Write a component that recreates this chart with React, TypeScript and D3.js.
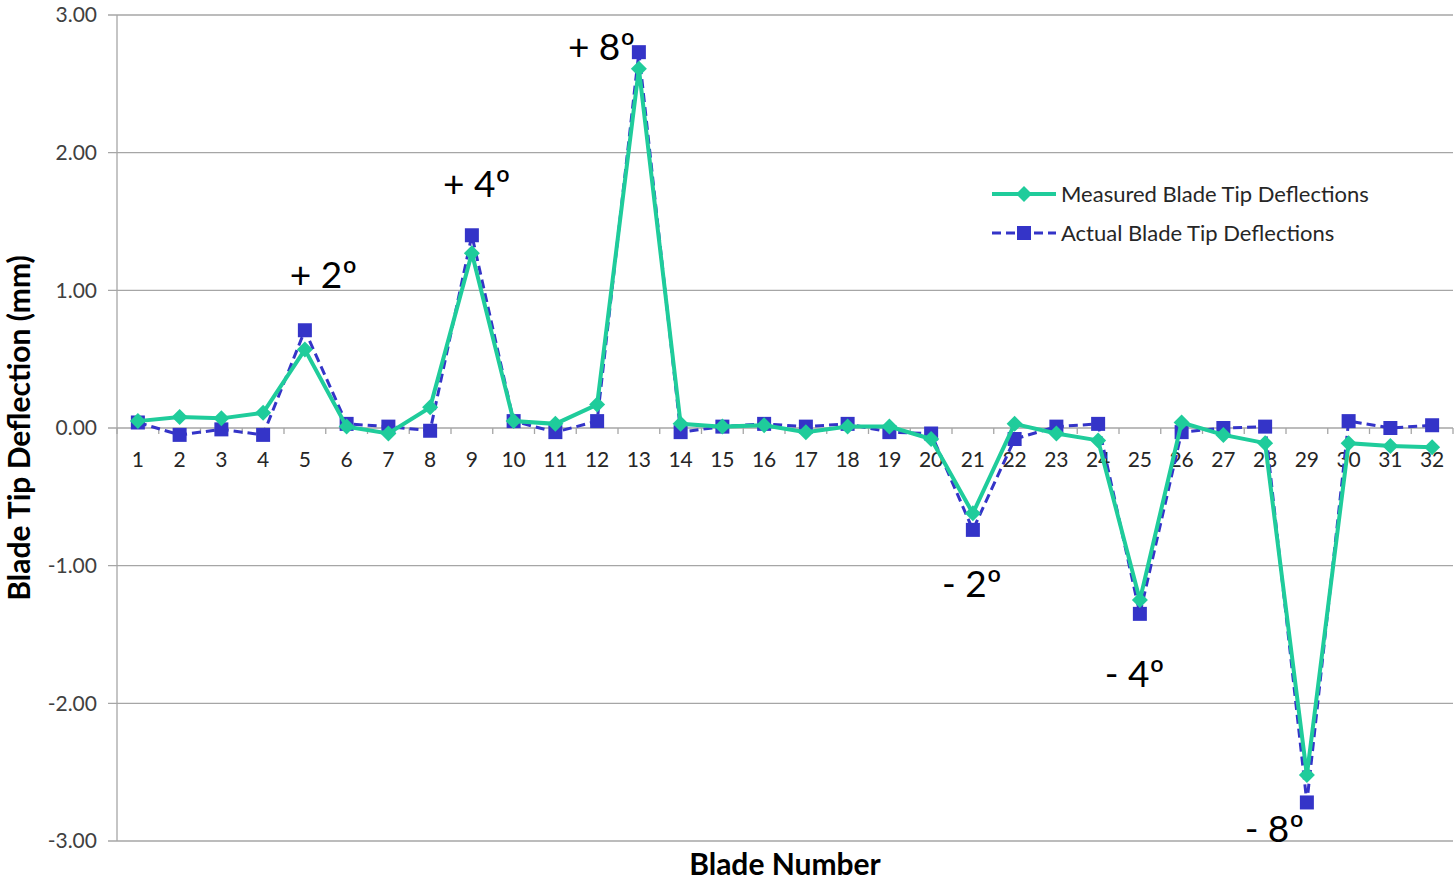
import React from "react";
import * as d3 from "d3";

const blades = d3.range(1, 33);
const measured = [0.05, 0.08, 0.07, 0.11, 0.57, 0.01, -0.04, 0.15, 1.27, 0.05, 0.03, 0.17, 2.61, 0.03, 0.01, 0.02,
  -0.03, 0.01, 0.01, -0.08, -0.62, 0.03, -0.04, -0.09, -1.25, 0.04, -0.05, -0.11, -2.52, -0.11, -0.13, -0.14];
const actual = [0.04, -0.05, -0.01, -0.05, 0.71, 0.03, 0.01, -0.02, 1.40, 0.05, -0.03, 0.05, 2.73, -0.03, 0.01, 0.03,
  0.01, 0.03, -0.03, -0.04, -0.74, -0.08, 0.01, 0.03, -1.35, -0.03, 0.0, 0.01, -2.72, 0.05, 0.0, 0.02];
const yTicks = [3, 2, 1, 0, -1, -2, -3];
// annotation anchor: fractional blade position (left edge of text) and value (baseline)
const annotations = [
  { blade: 4.64, value: 1.02, text: "+ 2º" },
  { blade: 8.31, value: 1.68, text: "+ 4º" },
  { blade: 11.3, value: 2.67, text: "+ 8º" },
  { blade: 20.26, value: -1.23, text: "- 2º" },
  { blade: 24.16, value: -1.88, text: "- 4º" },
  { blade: 27.51, value: -3.01, text: "- 8º" },
];
const seriesNames = ["Measured Blade Tip Deflections", "Actual Blade Tip Deflections"];

const GREEN = "#1fcc9b";
const BLUE = "#3434c8";
const FONT = "Lato, 'Open Sans', sans-serif";

export default function App() {
  const W = 1454, H = 882;
  const left = 117, right = 1453, top = 15, bottom = 841;
  const x = d3.scaleBand<number>().domain(blades).range([left, right]);
  const xLin = d3.scaleLinear().domain([0.5, 32.5]).range([left, right]);
  const y = d3.scaleLinear().domain([-3, 3]).range([bottom, top]);
  const cx = (b: number) => (x(b) as number) + x.bandwidth() / 2;
  const line = d3.line<number>().x((_, i) => cx(blades[i])).y((d) => y(d));
  const diamond = (s: number) => `M0,${-s}L${s},0L0,${s}L${-s},0Z`;

  return (
    <svg width={W} height={H} style={{ position: "absolute", left: 0, top: 0, background: "#fff" }}>
      {yTicks.map((t) => (
        <g key={t}>
          <line x1={left - 9} x2={right} y1={y(t)} y2={y(t)} stroke="#a6a6a6" strokeWidth={1.3} />
          <text x={left - 20} y={y(t)} dy="0.35em" textAnchor="end" fontFamily={FONT} fontSize={21} fill="#404040">
            {t.toFixed(2)}
          </text>
        </g>
      ))}
      <line x1={left} x2={left} y1={top} y2={bottom} stroke="#a6a6a6" strokeWidth={1.3} />
      {d3.range(0, 33).map((i) => {
        const xx = left + i * x.step();
        return <line key={i} x1={xx} x2={xx} y1={y(0)} y2={y(0) + 6} stroke="#a6a6a6" strokeWidth={1.3} />;
      })}
      {blades.map((b) => (
        <text key={b} x={cx(b)} y={y(0) + 39} textAnchor="middle" fontFamily={FONT} fontSize={21} fill="#262626">
          {b}
        </text>
      ))}
      <path d={line(actual) ?? ""} fill="none" stroke={BLUE} strokeWidth={3} strokeDasharray="9,5" />
      {actual.map((v, i) => (
        <rect key={i} x={cx(blades[i]) - 7} y={y(v) - 7} width={14} height={14} fill={BLUE} />
      ))}
      <path d={line(measured) ?? ""} fill="none" stroke={GREEN} strokeWidth={4} />
      {measured.map((v, i) => (
        <path key={i} d={diamond(8)} transform={`translate(${cx(blades[i])},${y(v)})`} fill={GREEN} />
      ))}
      {annotations.map((a) => (
        <text key={a.text} x={xLin(a.blade)} y={y(a.value)} fontFamily={FONT} fontSize={37} fill="#000">
          {a.text}
        </text>
      ))}
      <g>
        <line x1={992} x2={1056} y1={194} y2={194} stroke={GREEN} strokeWidth={4} />
        <path d={diamond(8)} transform="translate(1024,194)" fill={GREEN} />
        <text x={1061} y={194} dy="0.35em" fontFamily={FONT} fontSize={22} fill="#262626">{seriesNames[0]}</text>
        <line x1={992} x2={1056} y1={233} y2={233} stroke={BLUE} strokeWidth={3} strokeDasharray="9,5" />
        <rect x={1017} y={226} width={14} height={14} fill={BLUE} />
        <text x={1061} y={233} dy="0.35em" fontFamily={FONT} fontSize={22} fill="#262626">{seriesNames[1]}</text>
      </g>
      <text transform={`translate(30,${(top + bottom) / 2}) rotate(-90)`} textAnchor="middle" fontFamily={FONT}
        fontWeight="bold" fontSize={30} fill="#000">
        Blade Tip Deflection (mm)
      </text>
      <text x={785} y={875} textAnchor="middle" fontFamily={FONT} fontWeight="bold" fontSize={30} fill="#000">
        Blade Number
      </text>
    </svg>
  );
}
